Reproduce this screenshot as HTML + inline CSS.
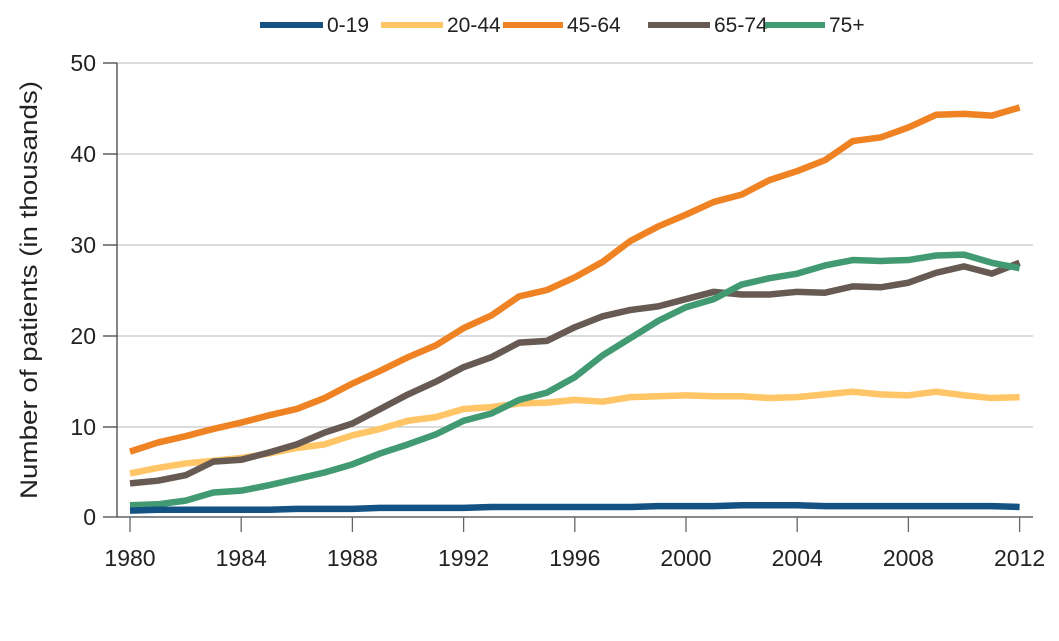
<!DOCTYPE html>
<html><head><style>body{margin:0;background:#fff}</style></head><body>
<svg width="1059" height="636" xmlns="http://www.w3.org/2000/svg" font-family="Liberation Sans, sans-serif">
<g stroke="#c8c8c8" stroke-width="1.2">
<line x1="117" x2="1033" y1="63" y2="63"/><line x1="117" x2="1033" y1="154" y2="154"/><line x1="117" x2="1033" y1="245" y2="245"/><line x1="117" x2="1033" y1="336" y2="336"/><line x1="117" x2="1033" y1="427" y2="427"/>
</g>
<g stroke="#444" stroke-width="1.3">
<line x1="117" x2="117" y1="63" y2="517"/><line x1="103" x2="1033" y1="517" y2="517"/>
<line x1="103" x2="117" y1="63" y2="63"/><line x1="103" x2="117" y1="154" y2="154"/><line x1="103" x2="117" y1="245" y2="245"/><line x1="103" x2="117" y1="336" y2="336"/><line x1="103" x2="117" y1="427" y2="427"/>
</g>
<g stroke="#666" stroke-width="1.3" id="xt"></g>
<g font-size="23" fill="#222" text-anchor="end">
<text x="96" y="71">50</text><text x="96" y="162">40</text><text x="96" y="253">30</text><text x="96" y="344">20</text><text x="96" y="435">10</text><text x="96" y="525">0</text>
</g>
<g font-size="23" fill="#222" text-anchor="middle" id="xl"></g>
<text transform="translate(37,290) rotate(-90)" font-size="24" fill="#222" text-anchor="middle" textLength="418" lengthAdjust="spacingAndGlyphs">Number of patients (in thousands)</text>
<g font-size="21" fill="#222">
<line x1="260" x2="323" y1="25" y2="25" stroke="#135283" stroke-width="6"/><text x="327" y="32">0-19</text>
<line x1="381" x2="443" y1="25" y2="25" stroke="#ffc566" stroke-width="6"/><text x="447" y="32">20-44</text>
<line x1="503" x2="563" y1="25" y2="25" stroke="#ef8222" stroke-width="6"/><text x="567" y="32">45-64</text>
<line x1="648" x2="710" y1="25" y2="25" stroke="#665a53" stroke-width="6"/><text x="714" y="32">65-74</text>
<line x1="765" x2="825" y1="25" y2="25" stroke="#429a72" stroke-width="6"/><text x="829" y="32">75+</text>
</g>
<g id="series" fill="none" stroke-width="6.5" stroke-linejoin="round"></g>
</svg>
<script>
var ns="http://www.w3.org/2000/svg";
function X(i){return 130+i*27.8}function Y(v){return 517-v*9.08}
var xt=document.getElementById('xt'),xl=document.getElementById('xl');
for(var y=1980;y<=2012;y+=4){var i=y-1980;var l=document.createElementNS(ns,'line');l.setAttribute('x1',X(i));l.setAttribute('x2',X(i));l.setAttribute('y1',517);l.setAttribute('y2',532);xt.appendChild(l);
var t=document.createElementNS(ns,'text');t.setAttribute('x',X(i));t.setAttribute('y',566);t.textContent=y;xl.appendChild(t);}
var S=[
["#ffc566",[4.8,5.4,5.9,6.2,6.5,7.0,7.6,8.0,9.0,9.7,10.6,11.0,11.9,12.1,12.5,12.6,12.9,12.7,13.2,13.3,13.4,13.3,13.3,13.1,13.2,13.5,13.8,13.5,13.4,13.8,13.4,13.1,13.2]],
["#ef8222",[7.2,8.2,8.9,9.7,10.4,11.2,11.9,13.1,14.7,16.1,17.6,18.9,20.8,22.2,24.3,25.0,26.4,28.1,30.4,32.0,33.3,34.7,35.5,37.1,38.1,39.3,41.4,41.8,42.9,44.3,44.4,44.2,45.1]],
["#665a53",[3.7,4.0,4.6,6.1,6.3,7.1,8.0,9.3,10.3,11.9,13.5,14.9,16.5,17.6,19.2,19.4,20.9,22.1,22.8,23.2,24.0,24.8,24.5,24.5,24.8,24.7,25.4,25.3,25.8,26.9,27.6,26.8,28.0]],
["#429a72",[1.3,1.4,1.8,2.7,2.9,3.5,4.2,4.9,5.8,7.0,8.0,9.1,10.6,11.4,12.9,13.7,15.4,17.8,19.7,21.6,23.1,24.0,25.6,26.3,26.8,27.7,28.3,28.2,28.3,28.8,28.9,28.0,27.4]],
["#135283",[0.7,0.8,0.8,0.8,0.8,0.8,0.9,0.9,0.9,1.0,1.0,1.0,1.0,1.1,1.1,1.1,1.1,1.1,1.1,1.2,1.2,1.2,1.3,1.3,1.3,1.2,1.2,1.2,1.2,1.2,1.2,1.2,1.1]]];
var g=document.getElementById('series');
S.forEach(function(s){var p=document.createElementNS(ns,'polyline');p.setAttribute('stroke',s[0]);p.setAttribute('points',s[1].map(function(v,i){return X(i)+','+Y(v)}).join(' '));g.appendChild(p);});
</script>
</body></html>
